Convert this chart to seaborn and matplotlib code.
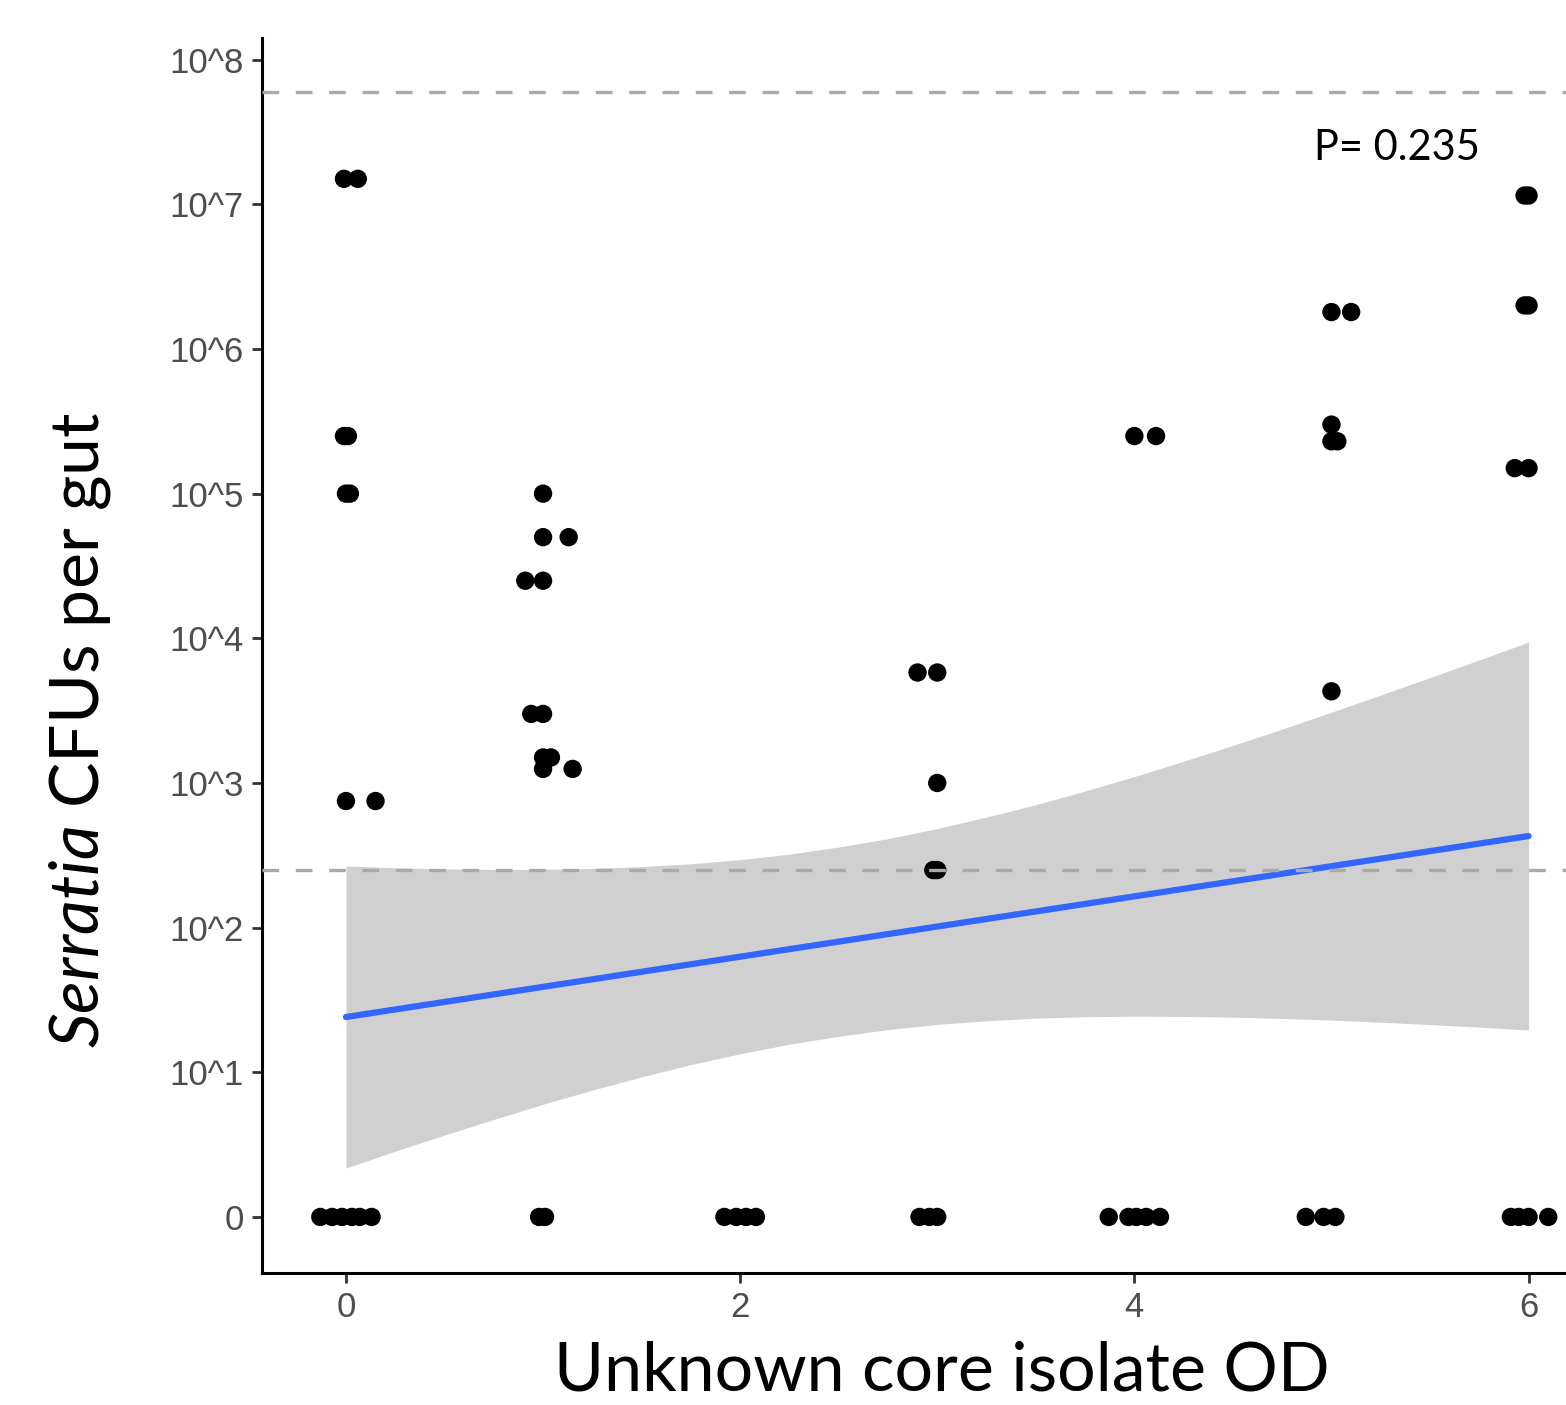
import numpy as np
import pandas as pd
import matplotlib
matplotlib.use("Agg")
import matplotlib.pyplot as plt
import seaborn as sns

# jittered x positions (OD) and CFUs per gut
od = [-0.01, 0.06, -0.01, 0.01, 0.0, 0.02, 0.0, 0.15,
      -0.13, -0.07, -0.02, 0.03, 0.07, 0.13,
      1.0, 1.0, 1.13, 0.91, 1.0, 0.94, 1.0, 1.0, 1.04, 1.0, 1.15,
      0.98, 1.01,
      1.92, 1.98, 2.03, 2.08,
      2.9, 3.0, 3.0, 2.98, 3.0,
      2.91, 2.96, 3.0,
      4.0, 4.11,
      3.87, 3.97, 4.01, 4.06, 4.13,
      5.0, 5.1, 5.0, 5.0, 5.03, 5.0,
      4.87, 4.96, 5.02,
      5.98, 6.0, 5.98, 6.0, 5.93, 6.0,
      5.91, 5.95, 6.0, 6.1]
cfu = [1.5e7, 1.5e7, 2.5e5, 2.5e5, 1e5, 1e5, 750, 750,
       0, 0, 0, 0, 0, 0,
       1e5, 5e4, 5e4, 2.5e4, 2.5e4, 3000, 3000, 1500, 1500, 1250, 1250,
       0, 0,
       0, 0, 0, 0,
       5800, 5800, 1000, 250, 250,
       0, 0, 0,
       2.5e5, 2.5e5,
       0, 0, 0, 0, 0,
       1.8e6, 1.8e6, 3e5, 2.3e5, 2.3e5, 4300,
       0, 0, 0,
       1.15e7, 1.15e7, 2e6, 2e6, 1.5e5, 1.5e5,
       0, 0, 0, 0]

# fitted line (log10 units)
fit_x = [0, 6]
fit_y = [1.382, 2.633]

# confidence band (log10 units)
band_x = [0, 0.25, 0.5, 0.75, 1, 1.25, 1.5, 1.75, 2, 2.25, 2.5, 2.75, 3,
          3.25, 3.5, 3.75, 4, 4.25, 4.5, 4.75, 5, 5.25, 5.5, 5.75, 6]
ci_low = [0.338, 0.454, 0.566, 0.674, 0.779, 0.877, 0.968, 1.053, 1.128,
          1.194, 1.249, 1.295, 1.331, 1.356, 1.374, 1.384, 1.388, 1.386,
          1.381, 1.372, 1.361, 1.346, 1.330, 1.312, 1.292]
ci_high = [2.426, 2.414, 2.406, 2.402, 2.403, 2.409, 2.422, 2.441, 2.470,
           2.508, 2.557, 2.615, 2.685, 2.764, 2.850, 2.944, 3.044, 3.150,
           3.259, 3.372, 3.489, 3.608, 3.728, 3.850, 3.974]

limits_cfu = [2.5e2, 6e7]
x_ticks = [0, 2, 4, 6]
y_ticks = [0, 1, 2, 3, 4, 5, 6, 7, 8]
y_tick_labels = ["0", "10^1", "10^2", "10^3", "10^4", "10^5", "10^6", "10^7", "10^8"]
p_label = "P= 0.235"

df = pd.DataFrame({"od": od, "cfu": cfu})
df["log_cfu"] = np.log10(np.maximum(df["cfu"], 1))
fit = pd.DataFrame({"x": fit_x, "y": fit_y})

sns.set_style("ticks")
plt.rcParams["mathtext.fontset"] = "custom"
plt.rcParams["mathtext.rm"] = "Lato"
plt.rcParams["mathtext.it"] = "Lato:italic"

fig = plt.figure(figsize=(15.66, 14.05), dpi=100)
ax = fig.add_axes([0.1673, 0.094, 0.8327, 0.879])

ax.fill_between(band_x, ci_low, ci_high, color="#d0d0d0", lw=0, zorder=1)
sns.lineplot(data=fit, x="x", y="y", color="#3366ff", lw=4.5, ax=ax, zorder=2)
sns.scatterplot(data=df, x="od", y="log_cfu", color="black", s=175,
                edgecolor="none", ax=ax, zorder=3)
for lim in limits_cfu:
    ax.axhline(np.log10(lim), color="#aaaaaa", lw=2.4, ls=(0, (5, 5)), zorder=4)

ax.text(4.909, 7.39, p_label, fontsize=30, family="Lato", color="black",
        va="center", ha="left")

ax.set_xlim(-0.426, 6.19)
ax.set_ylim(-0.387, 8.15)
ax.set_xticks(x_ticks)
ax.set_yticks(y_ticks)
ax.set_yticklabels(y_tick_labels)
ax.tick_params(axis="both", labelsize=25, colors="#333333", labelcolor="#4d4d4d",
               length=7, width=2, pad=6)
for lbl in ax.get_xticklabels() + ax.get_yticklabels():
    lbl.set_family("Liberation Sans")

sns.despine(ax=ax)
for side in ["left", "bottom"]:
    ax.spines[side].set_linewidth(2.2)
    ax.spines[side].set_color("black")

ax.set_xlabel("Unknown core isolate OD", fontsize=49, family="Lato", color="black")
ax.set_ylabel(r"$\mathit{Serratia}$ CFUs per gut", fontsize=49, family="Lato",
              color="black")
ax.xaxis.label.set_va("center")
ax.yaxis.label.set_va("center")
ax.xaxis.set_label_coords(0.521, -0.080)
ax.yaxis.set_label_coords(-0.1396, 0.44)

fig.savefig("out.png", dpi=100)
